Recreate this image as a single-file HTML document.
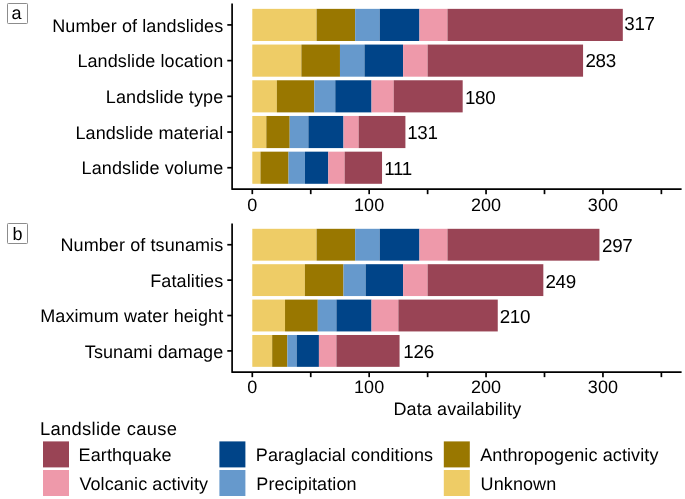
<!DOCTYPE html>
<html><head><meta charset="utf-8"><title>Data availability</title>
<style>
html,body{margin:0;padding:0;background:#fff;}
body{width:685px;height:499px;overflow:hidden;font-family:"Liberation Sans",sans-serif;}
svg{display:block;will-change:transform;}
.t{font-family:"Liberation Sans",sans-serif;font-size:18px;fill:#000;text-rendering:geometricPrecision;letter-spacing:0.1px;}
.bl{font-size:18.8px;letter-spacing:-0.3px;}
.ax{stroke:#000;stroke-width:1.7;fill:none;}
</style></head><body>
<svg width="685" height="499" viewBox="0 0 685 499">
<rect width="685" height="499" fill="#fff"/>
<rect x="252.30" y="8.86" width="64.28" height="32.13" fill="#EECC66"/>
<rect x="316.58" y="8.86" width="38.57" height="32.13" fill="#997700"/>
<rect x="355.15" y="8.86" width="24.54" height="32.13" fill="#6699CC"/>
<rect x="379.70" y="8.86" width="39.74" height="32.13" fill="#004488"/>
<rect x="419.44" y="8.86" width="28.05" height="32.13" fill="#EE99AA"/>
<rect x="447.49" y="8.86" width="175.32" height="32.13" fill="#994455"/>
<text x="624.30" y="30.00" class="t bl">317</text>
<line x1="227.3" x2="232.1" y1="24.92" y2="24.92" class="ax"/>
<text x="223.3" y="31.52" class="t" text-anchor="end">Number of landslides</text>
<rect x="252.30" y="44.56" width="49.09" height="32.13" fill="#EECC66"/>
<rect x="301.39" y="44.56" width="38.57" height="32.13" fill="#997700"/>
<rect x="339.96" y="44.56" width="24.54" height="32.13" fill="#6699CC"/>
<rect x="364.50" y="44.56" width="38.57" height="32.13" fill="#004488"/>
<rect x="403.08" y="44.56" width="24.54" height="32.13" fill="#EE99AA"/>
<rect x="427.62" y="44.56" width="155.45" height="32.13" fill="#994455"/>
<text x="585.45" y="67.00" class="t bl">283</text>
<line x1="227.3" x2="232.1" y1="60.62" y2="60.62" class="ax"/>
<text x="223.3" y="67.22" class="t" text-anchor="end">Landslide location</text>
<rect x="252.30" y="80.26" width="24.54" height="32.13" fill="#EECC66"/>
<rect x="276.84" y="80.26" width="37.40" height="32.13" fill="#997700"/>
<rect x="314.25" y="80.26" width="21.04" height="32.13" fill="#6699CC"/>
<rect x="335.28" y="80.26" width="36.23" height="32.13" fill="#004488"/>
<rect x="371.52" y="80.26" width="22.21" height="32.13" fill="#EE99AA"/>
<rect x="393.72" y="80.26" width="68.96" height="32.13" fill="#994455"/>
<text x="464.90" y="104.00" class="t bl">180</text>
<line x1="227.3" x2="232.1" y1="96.33" y2="96.33" class="ax"/>
<text x="223.3" y="102.93" class="t" text-anchor="end">Landslide type</text>
<rect x="252.30" y="115.96" width="14.03" height="32.13" fill="#EECC66"/>
<rect x="266.33" y="115.96" width="23.38" height="32.13" fill="#997700"/>
<rect x="289.70" y="115.96" width="18.70" height="32.13" fill="#6699CC"/>
<rect x="308.40" y="115.96" width="35.06" height="32.13" fill="#004488"/>
<rect x="343.47" y="115.96" width="15.19" height="32.13" fill="#EE99AA"/>
<rect x="358.66" y="115.96" width="46.75" height="32.13" fill="#994455"/>
<text x="407.20" y="139.00" class="t bl">131</text>
<line x1="227.3" x2="232.1" y1="132.03" y2="132.03" class="ax"/>
<text x="223.3" y="138.63" class="t" text-anchor="end">Landslide material</text>
<rect x="252.30" y="151.66" width="8.18" height="32.13" fill="#EECC66"/>
<rect x="260.48" y="151.66" width="28.05" height="32.13" fill="#997700"/>
<rect x="288.53" y="151.66" width="16.36" height="32.13" fill="#6699CC"/>
<rect x="304.90" y="151.66" width="23.38" height="32.13" fill="#004488"/>
<rect x="328.27" y="151.66" width="16.36" height="32.13" fill="#EE99AA"/>
<rect x="344.64" y="151.66" width="37.40" height="32.13" fill="#994455"/>
<text x="384.20" y="175.00" class="t bl">111</text>
<line x1="227.3" x2="232.1" y1="167.73" y2="167.73" class="ax"/>
<text x="223.3" y="174.33" class="t" text-anchor="end">Landslide volume</text>
<path d="M232.1 3.50 V189.15 H681.6" class="ax" stroke-linejoin="round"/>
<line x1="252.30" x2="252.30" y1="189.15" y2="194.15" class="ax"/>
<text x="252.30" y="210.70" class="t" text-anchor="middle">0</text>
<line x1="310.74" x2="310.74" y1="189.15" y2="194.15" class="ax"/>
<line x1="369.18" x2="369.18" y1="189.15" y2="194.15" class="ax"/>
<text x="369.18" y="210.70" class="t" text-anchor="middle">100</text>
<line x1="427.62" x2="427.62" y1="189.15" y2="194.15" class="ax"/>
<line x1="486.06" x2="486.06" y1="189.15" y2="194.15" class="ax"/>
<text x="486.06" y="210.70" class="t" text-anchor="middle">200</text>
<line x1="544.50" x2="544.50" y1="189.15" y2="194.15" class="ax"/>
<line x1="602.94" x2="602.94" y1="189.15" y2="194.15" class="ax"/>
<text x="602.94" y="210.70" class="t" text-anchor="middle">300</text>
<line x1="661.38" x2="661.38" y1="189.15" y2="194.15" class="ax"/>
<rect x="7.5" y="3.5" width="20" height="20" rx="0.8" fill="#fff" stroke="#8c8c8c" stroke-width="1"/>
<text x="16.5" y="18.70" class="t" text-anchor="middle">a</text>
<rect x="252.30" y="228.81" width="64.28" height="31.85" fill="#EECC66"/>
<rect x="316.58" y="228.81" width="38.57" height="31.85" fill="#997700"/>
<rect x="355.15" y="228.81" width="24.54" height="31.85" fill="#6699CC"/>
<rect x="379.70" y="228.81" width="39.74" height="31.85" fill="#004488"/>
<rect x="419.44" y="228.81" width="28.05" height="31.85" fill="#EE99AA"/>
<rect x="447.49" y="228.81" width="151.94" height="31.85" fill="#994455"/>
<text x="602.00" y="252.00" class="t bl">297</text>
<line x1="227.3" x2="232.1" y1="244.74" y2="244.74" class="ax"/>
<text x="223.3" y="251.34" class="t" text-anchor="end">Number of tsunamis</text>
<rect x="252.30" y="264.20" width="52.60" height="31.85" fill="#EECC66"/>
<rect x="304.90" y="264.20" width="38.57" height="31.85" fill="#997700"/>
<rect x="343.47" y="264.20" width="22.21" height="31.85" fill="#6699CC"/>
<rect x="365.67" y="264.20" width="37.40" height="31.85" fill="#004488"/>
<rect x="403.08" y="264.20" width="24.54" height="31.85" fill="#EE99AA"/>
<rect x="427.62" y="264.20" width="115.71" height="31.85" fill="#994455"/>
<text x="545.45" y="288.00" class="t bl">249</text>
<line x1="227.3" x2="232.1" y1="280.13" y2="280.13" class="ax"/>
<text x="223.3" y="286.73" class="t" text-anchor="end">Fatalities</text>
<rect x="252.30" y="299.59" width="32.73" height="31.85" fill="#EECC66"/>
<rect x="285.03" y="299.59" width="32.73" height="31.85" fill="#997700"/>
<rect x="317.75" y="299.59" width="18.70" height="31.85" fill="#6699CC"/>
<rect x="336.45" y="299.59" width="35.06" height="31.85" fill="#004488"/>
<rect x="371.52" y="299.59" width="26.88" height="31.85" fill="#EE99AA"/>
<rect x="398.40" y="299.59" width="99.35" height="31.85" fill="#994455"/>
<text x="499.70" y="323.00" class="t bl">210</text>
<line x1="227.3" x2="232.1" y1="315.52" y2="315.52" class="ax"/>
<text x="223.3" y="322.12" class="t" text-anchor="end">Maximum water height</text>
<rect x="252.30" y="334.99" width="19.87" height="31.85" fill="#EECC66"/>
<rect x="272.17" y="334.99" width="15.19" height="31.85" fill="#997700"/>
<rect x="287.36" y="334.99" width="9.35" height="31.85" fill="#6699CC"/>
<rect x="296.71" y="334.99" width="22.21" height="31.85" fill="#004488"/>
<rect x="318.92" y="334.99" width="17.53" height="31.85" fill="#EE99AA"/>
<rect x="336.45" y="334.99" width="63.12" height="31.85" fill="#994455"/>
<text x="403.36" y="358.00" class="t bl">126</text>
<line x1="227.3" x2="232.1" y1="350.91" y2="350.91" class="ax"/>
<text x="223.3" y="357.51" class="t" text-anchor="end">Tsunami damage</text>
<path d="M232.1 223.50 V372.15 H681.6" class="ax" stroke-linejoin="round"/>
<line x1="252.30" x2="252.30" y1="372.15" y2="377.15" class="ax"/>
<text x="252.30" y="393.40" class="t" text-anchor="middle">0</text>
<line x1="310.74" x2="310.74" y1="372.15" y2="377.15" class="ax"/>
<line x1="369.18" x2="369.18" y1="372.15" y2="377.15" class="ax"/>
<text x="369.18" y="393.40" class="t" text-anchor="middle">100</text>
<line x1="427.62" x2="427.62" y1="372.15" y2="377.15" class="ax"/>
<line x1="486.06" x2="486.06" y1="372.15" y2="377.15" class="ax"/>
<text x="486.06" y="393.40" class="t" text-anchor="middle">200</text>
<line x1="544.50" x2="544.50" y1="372.15" y2="377.15" class="ax"/>
<line x1="602.94" x2="602.94" y1="372.15" y2="377.15" class="ax"/>
<text x="602.94" y="393.40" class="t" text-anchor="middle">300</text>
<line x1="661.38" x2="661.38" y1="372.15" y2="377.15" class="ax"/>
<rect x="7.5" y="223.5" width="20" height="20" rx="0.8" fill="#fff" stroke="#8c8c8c" stroke-width="1"/>
<text x="17.6" y="240.00" class="t" text-anchor="middle">b</text>
<text x="393.5" y="415" class="t">Data availability</text>
<text x="39.9" y="434.6" class="t" style="font-size:18.4px;letter-spacing:0.3px">Landslide cause</text>
<rect x="43.0" y="441.4" width="26" height="26" fill="#994455"/>
<text x="78.6" y="461.00" class="t">Earthquake</text>
<rect x="43.0" y="470.0" width="26" height="26" fill="#EE99AA"/>
<text x="79.4" y="489.60" class="t">Volcanic activity</text>
<rect x="219.4" y="441.4" width="26" height="26" fill="#004488"/>
<text x="255.8" y="461.00" class="t">Paraglacial conditions</text>
<rect x="219.4" y="470.0" width="26" height="26" fill="#6699CC"/>
<text x="256.3" y="489.60" class="t">Precipitation</text>
<rect x="443.8" y="441.4" width="26" height="26" fill="#997700"/>
<text x="480.2" y="461.00" class="t">Anthropogenic activity</text>
<rect x="443.8" y="470.0" width="26" height="26" fill="#EECC66"/>
<text x="480.6" y="489.60" class="t">Unknown</text>
</svg>
</body></html>
